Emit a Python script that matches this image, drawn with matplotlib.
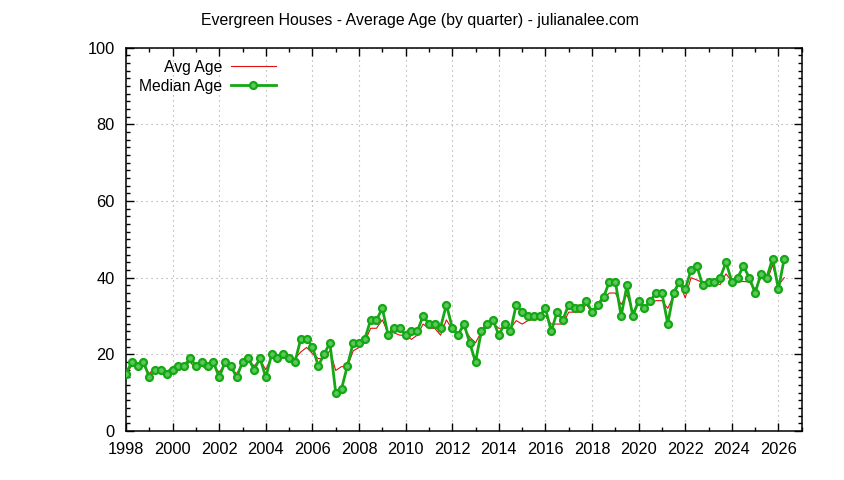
import numpy as np
import matplotlib
matplotlib.use("Agg")
import matplotlib.pyplot as plt
from matplotlib.ticker import MultipleLocator

plt.rcParams["font.family"] = ["Liberation Sans", "DejaVu Sans"]

# quarterly data, first quarter of 1998 up to second quarter of 2026
first_year = 1998
median_age = [
    15, 18, 17, 18,  14, 16, 16, 15,  16, 17, 17, 19,  17, 18, 17, 18,
    14, 18, 17, 14,  18, 19, 16, 19,  14, 20, 19, 20,  19, 18, 24, 24,
    22, 17, 20, 23,  10, 11, 17, 23,  23, 24, 29, 29,  32, 25, 27, 27,
    25, 26, 26, 30,  28, 28, 27, 33,  27, 25, 28, 23,  18, 26, 28, 29,
    25, 28, 26, 33,  31, 30, 30, 30,  32, 26, 31, 29,  33, 32, 32, 34,
    31, 33, 35, 39,  39, 30, 38, 30,  34, 32, 34, 36,  36, 28, 36, 39,
    37, 42, 43, 38,  39, 39, 40, 44,  39, 40, 43, 40,  36, 41, 40, 45,
    37, 45,
]
avg_age = [
    15, 17, 17, 17,  15, 16.5, 15.3, 15.6,  16.5, 17, 17, 18,  16.2, 17, 16, 17,
    15.3, 17.5, 16, 15,  17.5, 18.4, 17, 18.6,  16, 19.5, 19, 19.7,  19.3, 18.9, 20.6, 21.8,
    20.2, 18.9, 18.9, 21,  15.8, 16.8, 16.8, 20.9,  21.8, 23.3, 26.8, 26.8,  29, 25.6, 25.6, 25,
    25, 23.9, 25, 27.9,  26.8, 26.8, 25, 29,  26.5, 25.6, 27, 24.5,  23, 25.9, 27, 28.1,
    26.8, 26.8, 26.8, 28.8,  27.9, 28.8, 29, 29.7,  30, 27.9, 27.9, 27.9,  31, 31, 31, 33,
    31, 32, 34.7, 36,  36, 33, 35.6, 31,  33.4, 32.3, 33.4, 34,  34, 32, 35.2, 38.7,
    34.7, 40, 39.4, 38.7,  39, 38.7, 38.2, 41,  39, 39, 39, 38.9,  37, 40, 39, 43.3,
    38, 40,
]
dates = first_year + np.arange(len(median_age)) * 0.25

fig = plt.figure(figsize=(8.44, 4.8), dpi=100)
ax = fig.add_axes([0.1493, 0.1021, 0.8006, 0.7985])

ax.plot(dates, avg_age, color="#e01010", lw=0.8, label="Avg Age", zorder=3)
ax.plot(dates, median_age, color="#14a814", lw=2.0, marker="o", ms=5.0,
        mfc="#5cc85c", mec="#14a814", mew=1.6, label="Median Age", zorder=4)

ax.set_xlim(1998, 2027)
ax.set_ylim(0, 100)
ax.xaxis.set_major_locator(MultipleLocator(2))
ax.xaxis.set_minor_locator(MultipleLocator(1))
ax.yaxis.set_major_locator(MultipleLocator(20))
ax.yaxis.set_minor_locator(MultipleLocator(2))
ax.tick_params(which="both", direction="in", top=True, right=True,
               labelsize=11.8, colors="black")
ax.tick_params(axis="x", pad=8)
ax.tick_params(axis="y", pad=8)
ax.tick_params(which="major", length=6, width=1)
ax.tick_params(which="minor", length=3.2, width=1)
ax.grid(True, which="major", color="#a0a0a0", linestyle=(0, (1, 3.5)), lw=0.8)
for sp in ax.spines.values():
    sp.set_linewidth(1.1)

ax.legend(loc="upper left", bbox_to_anchor=(0.019, 0.968), frameon=False,
          markerfirst=False, fontsize=11.3, borderpad=0, borderaxespad=0,
          handlelength=2.9, handletextpad=0.55, labelspacing=0.25)

fig.text(0.4976, 0.958, "Evergreen Houses - Average Age (by quarter) - julianalee.com",
         ha="center", va="center", fontsize=11.4)

fig.savefig("out.png", dpi=100)
